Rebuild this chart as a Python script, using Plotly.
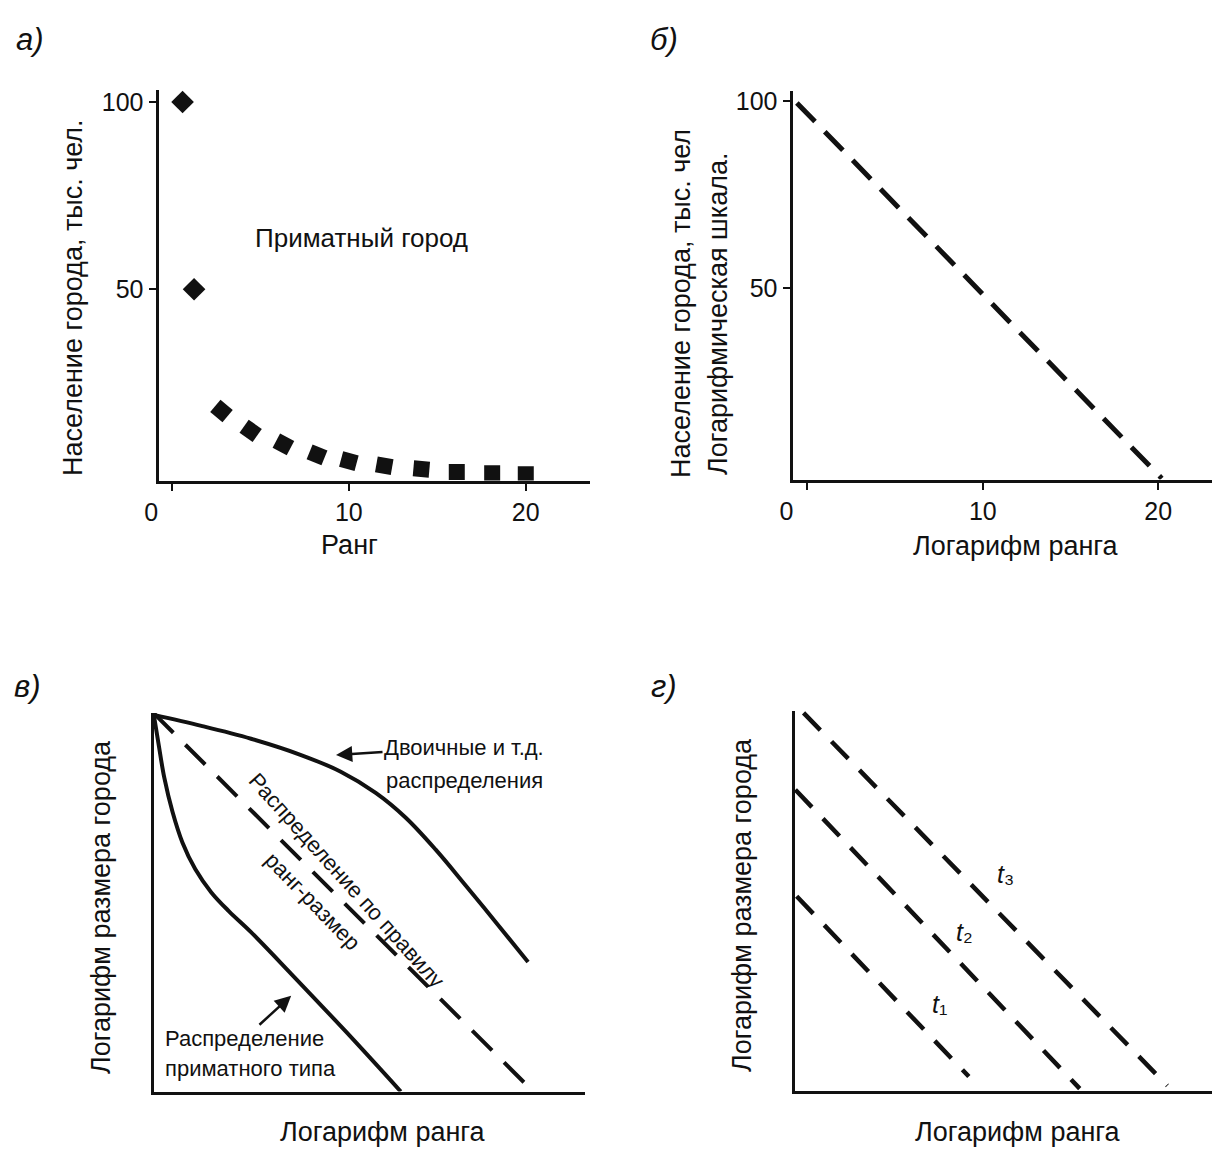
import plotly.graph_objects as go

# ---------------- data ----------------
# panel а) rank vs population (thousand)
rank_a = [0.6, 1.25, 2.8, 4.45, 6.3, 8.2, 10.0, 12.0, 14.1, 16.1, 18.1, 20.0]
pop_a = [100, 50, 17.5, 12.2, 8.6, 5.8, 4.1, 2.9, 2.0, 1.2, 0.9, 0.6]
ticks_ab_x = [0, 10, 20]
ticks_ab_xtext = ["0", "10", "20"]
ticks_ab_y = [50, 100]

# panel б) log rank vs population (log scale)
logrank_b = [-0.6, 20.2]
pop_b = [99.5, -1.0]

# panel в) schematic curves (relative units 0..10)
rs_x = [0.0, 8.8]
rs_y = [10.0, 0.0]
binary_x = [0.0, 1.11, 2.26, 3.42, 4.34, 5.15, 5.84, 6.54, 7.23, 7.97, 8.68]
binary_y = [9.95, 9.66, 9.32, 8.89, 8.45, 7.89, 7.24, 6.39, 5.45, 4.42, 3.42]
primate_x = [0.0, 0.12, 0.25, 0.44, 0.67, 0.97, 1.34, 1.75, 2.26, 3.19, 4.46, 5.73]
primate_y = [10.0, 9.16, 8.29, 7.39, 6.58, 5.87, 5.26, 4.76, 4.21, 3.11, 1.58, 0.0]

# panel г) three rank-size lines at times t1, t2, t3
t_names = ["<i>t</i>₁", "<i>t</i>₂", "<i>t</i>₃"]
t_x = [[0.05, 4.04], [0.02, 6.61], [0.21, 8.64]]
t_y = [[5.16, 0.37], [7.99, 0.05], [10.03, 0.13]]
t_label_x = [3.35, 3.95, 4.90]
t_label_y = [2.30, 4.21, 5.74]

# ---------------- layout helpers ----------------
# the page body has an 8px margin, so the figure is placed at (8, 8)
OFF = 8
W, H = 1220 - OFF, 1153 - OFF
LW = 3  # axis line width


def px(x):
    return (x - OFF) / W


def py(y):
    return 1 - (y - OFF) / H


FONT = "Liberation Sans, Arial, DejaVu Sans, sans-serif"
BLACK = "#111111"
BIG = 27
SMALL = 22
NB = "\u00a0" * 6  # pushes the "0" label left of its tick, as in the original

fig = go.Figure()

# panel а
fig.add_trace(go.Scatter(
    x=rank_a, y=pop_a, mode="markers", xaxis="x", yaxis="y",
    marker=dict(symbol="square", size=16, color=BLACK,
                angle=[45, 45, 40, 35, 28, 22, 15, 10, 5, 0, 0, 0]),
    showlegend=False, hoverinfo="skip"))

# panel б
fig.add_trace(go.Scatter(
    x=logrank_b, y=pop_b, mode="lines", xaxis="x2", yaxis="y2",
    line=dict(color=BLACK, width=5, dash="26px,14px"),
    showlegend=False, hoverinfo="skip"))

# panel в
fig.add_trace(go.Scatter(
    x=rs_x, y=rs_y, mode="lines", xaxis="x3", yaxis="y3",
    line=dict(color=BLACK, width=4, dash="28px,17px"),
    showlegend=False, hoverinfo="skip"))
fig.add_trace(go.Scatter(
    x=binary_x, y=binary_y, mode="lines", xaxis="x3", yaxis="y3",
    line=dict(color=BLACK, width=4, shape="spline", smoothing=1.0),
    showlegend=False, hoverinfo="skip"))
fig.add_trace(go.Scatter(
    x=primate_x, y=primate_y, mode="lines", xaxis="x3", yaxis="y3",
    line=dict(color=BLACK, width=4, shape="spline", smoothing=1.0),
    showlegend=False, hoverinfo="skip"))

# panel г
for xs, ys in zip(t_x, t_y):
    fig.add_trace(go.Scatter(
        x=xs, y=ys, mode="lines", xaxis="x4", yaxis="y4",
        line=dict(color=BLACK, width=4.5, dash="24px,16px"),
        showlegend=False, hoverinfo="skip"))

axis_common = dict(showline=True, linecolor=BLACK, linewidth=LW, showgrid=False,
                   zeroline=False, color=BLACK, automargin=False,
                   tickfont=dict(family=FONT, size=25, color=BLACK))
tick_style = dict(ticks="outside", ticklen=7, tickwidth=2, tickcolor=BLACK,
                  tickmode="array")
xtick_text = [ticks_ab_xtext[0] + NB] + ticks_ab_xtext[1:]


def xdom(left, right=None):
    # left = x pixel of the y-axis line centre
    r = 1.0 if right is None else px(right)
    return [px(left + LW / 2), r]


def ydom(bottom, top):
    # bottom = y pixel of the x-axis line centre
    return [py(bottom - LW / 2), py(top)]


fig.update_layout(
    width=W, height=H, autosize=False,
    margin=dict(l=0, r=0, t=0, b=0, autoexpand=False),
    paper_bgcolor="white", plot_bgcolor="white",
    font=dict(family=FONT, color=BLACK),
    xaxis=dict(axis_common, **tick_style, domain=xdom(157, 590),
               range=[-0.76, 23.63], anchor="y", tickvals=ticks_ab_x,
               ticktext=xtick_text),
    yaxis=dict(axis_common, **tick_style, domain=ydom(482, 90),
               range=[-1.06, 103.2], anchor="x", tickvals=ticks_ab_y),
    xaxis2=dict(axis_common, **tick_style, domain=xdom(791),
                range=[-0.85, 23.52], anchor="y2", tickvals=ticks_ab_x,
                ticktext=xtick_text),
    yaxis2=dict(axis_common, **tick_style, domain=ydom(481, 91),
                range=[-1.3, 102.7], anchor="x2", tickvals=ticks_ab_y),
    xaxis3=dict(axis_common, domain=xdom(152, 585), range=[0, 10],
                anchor="y3", showticklabels=False, ticks=""),
    yaxis3=dict(axis_common, domain=ydom(1093, 713), range=[0, 10],
                anchor="x3", showticklabels=False, ticks=""),
    xaxis4=dict(axis_common, domain=xdom(793), range=[0, 9.86],
                anchor="y4", showticklabels=False, ticks=""),
    yaxis4=dict(axis_common, domain=ydom(1092, 711), range=[0, 10.08],
                anchor="x4", showticklabels=False, ticks=""),
)

ann = []


def paper_text(text, x, y, size, angle=0, italic=False, xanchor="center"):
    t = f"<i>{text}</i>" if italic else text
    ann.append(dict(text=t, x=px(x), y=py(y), xref="paper", yref="paper",
                    showarrow=False, textangle=angle, xanchor=xanchor,
                    yanchor="middle",
                    font=dict(family=FONT, size=size, color=BLACK)))


def data_text(text, x, y, axes, size, angle=0, xanchor="center"):
    ann.append(dict(text=text, x=x, y=y, xref=axes[0], yref=axes[1],
                    showarrow=False, textangle=angle, xanchor=xanchor,
                    yanchor="middle",
                    font=dict(family=FONT, size=size, color=BLACK)))


def arrow_text(text, hx, hy, axes, ax, ay, size):
    # text label with an arrow that points at (hx, hy) in data units
    ann.append(dict(text=text, x=hx, y=hy, xref=axes[0], yref=axes[1],
                    showarrow=True, ax=ax, ay=ay, arrowhead=2, arrowsize=1.3,
                    arrowwidth=2.5, arrowcolor=BLACK, standoff=0,
                    font=dict(family=FONT, size=size, color=BLACK)))


# panel letters
paper_text("а)", 30, 40, 31, italic=True)
paper_text("б)", 664, 40, 31, italic=True)
paper_text("в)", 28, 686, 31, italic=True)
paper_text("г)", 664, 686, 31, italic=True)

# panel а texts
paper_text("Население города, тыс. чел.", 73, 298, BIG, angle=-90)
paper_text("Ранг", 349, 545, BIG)
data_text("Приматный город", 10.7, 63.8, ("x", "y"), BIG - 1)

# panel б texts
paper_text("Население города, тыс. чел", 681, 304, BIG, angle=-90)
paper_text("Логарифмическая шкала.", 718, 314, BIG, angle=-90)
paper_text("Логарифм ранга", 1016, 546, BIG)

# panel в texts
paper_text("Логарифм размера города", 101, 907, BIG, angle=-90)
paper_text("Логарифм ранга", 383, 1132, BIG)
arrow_text("Двоичные и т.д.", 4.23, 8.89, ("x3", "y3"), 128, -8, SMALL)
data_text("распределения", 5.35, 8.22, ("x3", "y3"), SMALL, xanchor="left")
data_text("Распределение по правилу", 4.48, 5.58, ("x3", "y3"), SMALL, angle=48)
data_text("ранг-размер", 3.70, 5.03, ("x3", "y3"), SMALL, angle=46)
arrow_text("Распределение", 3.19, 2.53, ("x3", "y3"), -47, 43, SMALL)
data_text("приматного типа", 0.23, 0.61, ("x3", "y3"), SMALL, xanchor="left")

# panel г texts
paper_text("Логарифм размера города", 742, 905, BIG, angle=-90)
paper_text("Логарифм ранга", 1018, 1132, BIG)
for name, lx, ly in zip(t_names, t_label_x, t_label_y):
    data_text(name, lx, ly, ("x4", "y4"), 25)

fig.update_layout(annotations=ann)

fig.write_html("out.html")
